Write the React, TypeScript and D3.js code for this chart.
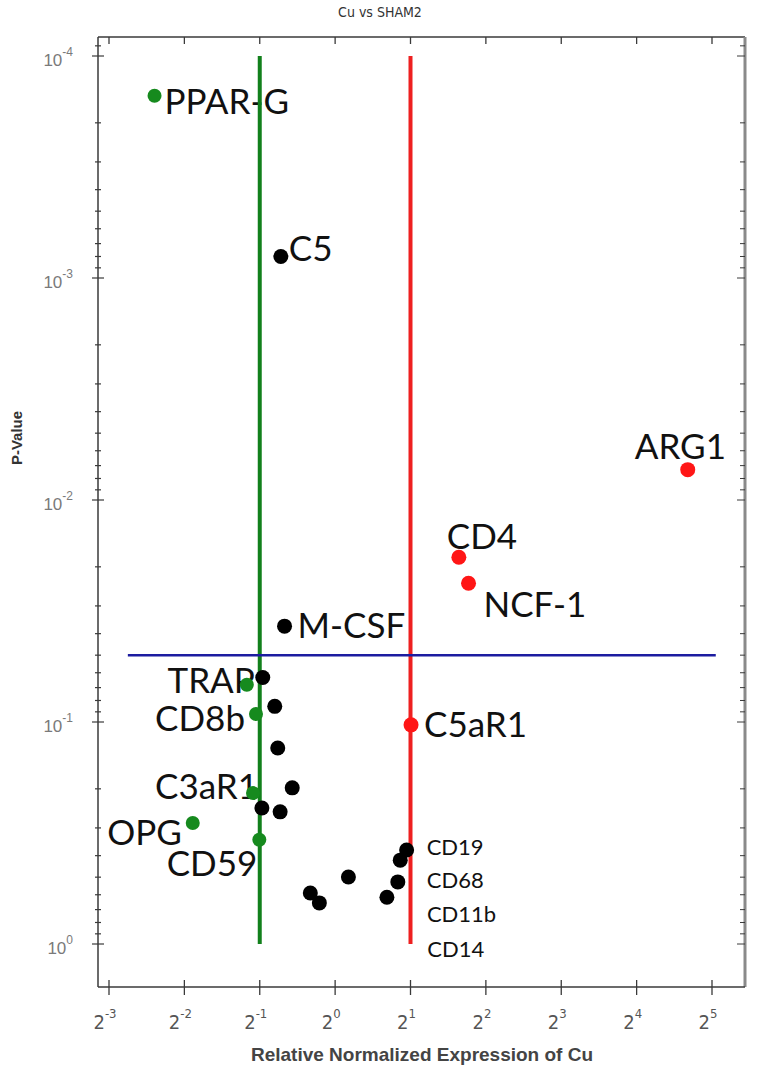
import React, { useEffect, useRef } from 'react';
import * as d3 from 'd3';

// points
const genes = ['PPAR-G', 'C5', 'ARG1', 'CD4', 'NCF-1', 'M-CSF', 'C5aR1', 'TRAP', 'CD8b', 'C3aR1', 'OPG', 'CD59',
  'CD19', 'CD68', 'CD11b', 'CD14', '', '', '', '', '', '', '', '', ''];
const foldChange = [0.19, 0.607, 25.6, 3.12, 3.41, 0.628, 2.01, 0.444, 0.483, 0.47, 0.27, 0.498,
  1.93, 1.78, 1.61, 1.82, 0.514, 0.574, 0.59, 0.674, 0.51, 0.603, 1.13, 0.796, 0.865];
const pValues = [1.51e-4, 8.0e-4, 7.3e-3, 0.0181, 0.0237, 0.037, 0.103, 0.068, 0.092, 0.209, 0.285, 0.339,
  0.377, 0.525, 0.616, 0.419, 0.063, 0.085, 0.131, 0.198, 0.244, 0.254, 0.499, 0.589, 0.653];
const groups = ['down', 'none', 'up', 'up', 'up', 'none', 'up', 'down', 'down', 'down', 'down', 'down',
  'none', 'none', 'none', 'none', 'none', 'none', 'none', 'none', 'none', 'none', 'none', 'none', 'none'];

const xTickExps = [-3, -2, -1, 0, 1, 2, 3, 4, 5];
const yTickExps = [-4, -3, -2, -1, 0];
const downThreshold = 0.5;
const upThreshold = 2;
const pThreshold = 0.05;
const pLineSpan = [2 ** -2.75, 2 ** 5.05];

// label placement (px offset from the dot, to the text baseline)
const labelPos = {
  'PPAR-G': [10, 18, 'start', 35], 'C5': [8, 5, 'start', 35], 'ARG1': [-53, -11, 'start', 35],
  'CD4': [-12, -8, 'start', 35], 'NCF-1': [15, 34, 'start', 35], 'M-CSF': [13, 12, 'start', 35],
  'C5aR1': [13, 12, 'start', 35], 'TRAP': [8, 8, 'end', 35], 'CD8b': [-11, 17, 'end', 35],
  'C3aR1': [5, 6, 'end', 35], 'OPG': [-11, 22, 'end', 35], 'CD59': [-2, 36, 'end', 35],
  'CD19': [20, 5, 'start', 22], 'CD68': [29, 6, 'start', 22], 'CD11b': [40, 25, 'start', 22],
  'CD14': [27, 97, 'start', 22],
};

const colors = { down: '#168a1e', up: '#ff1616', none: '#000000' };

const App = () => {
  const ref = useRef(null);

  useEffect(() => {
    const W = 762, H = 1074;
    const frame = { left: 98, right: 745, top: 37, bottom: 987 };
    const svg = d3.select(ref.current);
    svg.selectAll('*').remove();
    svg.attr('width', W).attr('height', H);

    const x = d3.scaleLog().base(2).domain([2 ** -3, 2 ** 5]).range([109, 712]);
    const y = d3.scaleLog().domain([1e-4, 1]).range([56, 944]);

    const axisColor = '#3a3a3a';
    const tickFont = "'Liberation Sans', Arial, sans-serif";
    const narrowFont = "'Liberation Sans Narrow', 'DejaVu Sans Condensed', 'Liberation Sans', sans-serif";

    // frame
    svg.append('line').attr('x1', frame.left).attr('x2', frame.right).attr('y1', frame.top).attr('y2', frame.top)
      .attr('stroke', axisColor).attr('stroke-width', 1.5);
    svg.append('line').attr('x1', frame.right).attr('x2', frame.right).attr('y1', frame.top).attr('y2', frame.bottom)
      .attr('stroke', '#8a8a8a').attr('stroke-width', 3);
    svg.append('line').attr('x1', frame.left).attr('x2', frame.left).attr('y1', frame.top).attr('y2', frame.bottom)
      .attr('stroke', axisColor).attr('stroke-width', 1.5);
    svg.append('line').attr('x1', frame.left).attr('x2', frame.right).attr('y1', frame.bottom).attr('y2', frame.bottom)
      .attr('stroke', axisColor).attr('stroke-width', 1.5);

    // y ticks (major + minor) on left and right
    const yMinor = [];
    [-5, -4, -3, -2, -1].forEach(e => {
      for (let m = 2; m <= 9; m++) {
        const v = m * 10 ** e;
        const py = y(v);
        if (py > frame.top + 3 && py < frame.bottom - 3) yMinor.push(v);
      }
    });
    yMinor.forEach(v => {
      svg.append('line').attr('x1', frame.left - 3).attr('x2', frame.left + 3).attr('y1', y(v)).attr('y2', y(v))
        .attr('stroke', axisColor).attr('stroke-width', 1.2);
      svg.append('line').attr('x1', frame.right - 5).attr('x2', frame.right).attr('y1', y(v)).attr('y2', y(v))
        .attr('stroke', axisColor).attr('stroke-width', 1);
    });
    yTickExps.forEach(e => {
      const py = y(10 ** e);
      svg.append('line').attr('x1', frame.left - 6).attr('x2', frame.left + 6).attr('y1', py).attr('y2', py)
        .attr('stroke', axisColor).attr('stroke-width', 1.2);
      svg.append('line').attr('x1', frame.right - 8).attr('x2', frame.right).attr('y1', py).attr('y2', py)
        .attr('stroke', axisColor).attr('stroke-width', 1);
      const t = svg.append('text').attr('x', 73).attr('y', py + 10).attr('text-anchor', 'end')
        .attr('font-family', tickFont).attr('font-size', 17).attr('fill', '#7a7a7a');
      t.append('tspan').text('10');
      t.append('tspan').attr('font-size', 12).attr('dy', -10).text(String(e));
    });

    // x ticks bottom + top
    xTickExps.forEach(e => {
      const px = x(2 ** e);
      svg.append('line').attr('x1', px).attr('x2', px).attr('y1', frame.bottom - 7).attr('y2', frame.bottom + 8)
        .attr('stroke', axisColor).attr('stroke-width', 1.3);
      svg.append('line').attr('x1', px).attr('x2', px).attr('y1', frame.top).attr('y2', frame.top + 7)
        .attr('stroke', axisColor).attr('stroke-width', 1.3);
      const t = svg.append('text').attr('x', px - 4).attr('y', 1029).attr('text-anchor', 'middle')
        .attr('font-family', narrowFont).attr('font-size', 20).attr('fill', '#555');
      t.append('tspan').text('2');
      t.append('tspan').attr('font-size', 13).attr('dy', -11).text(String(e));
    });

    // titles
    svg.append('text').attr('x', 380).attr('y', 17).attr('text-anchor', 'middle')
      .attr('font-family', narrowFont).attr('font-size', 14)
      .attr('fill', '#333').text('Cu vs SHAM2');
    svg.append('text').attr('transform', 'translate(22,438) rotate(-90)').attr('text-anchor', 'middle')
      .attr('font-family', tickFont).attr('font-weight', 'bold').attr('font-size', 15)
      .attr('fill', '#333').text('P-Value');
    svg.append('text').attr('x', 422).attr('y', 1061).attr('text-anchor', 'middle')
      .attr('font-family', tickFont).attr('font-weight', 'bold').attr('font-size', 19)
      .attr('fill', '#444').text('Relative Normalized Expression of Cu');

    const points = genes.map((g, i) => ({ gene: g, fc: foldChange[i], p: pValues[i], group: groups[i] }));

    // labels (drawn under the dots)
    points.filter(d => d.gene && labelPos[d.gene]).forEach(d => {
      const [dx, dy, anchor, size] = labelPos[d.gene];
      svg.append('text').attr('x', x(d.fc) + dx).attr('y', y(d.p) + dy).attr('text-anchor', anchor)
        .attr('font-family', "Lato, 'Open Sans', sans-serif").attr('font-size', size).attr('fill', '#111')
        .text(d.gene);
    });

    // threshold lines
    svg.append('line').attr('x1', x(downThreshold)).attr('x2', x(downThreshold)).attr('y1', y(1e-4)).attr('y2', y(1))
      .attr('stroke', '#12801c').attr('stroke-width', 4);
    svg.append('line').attr('x1', x(upThreshold)).attr('x2', x(upThreshold)).attr('y1', y(1e-4)).attr('y2', y(1))
      .attr('stroke', '#ee2020').attr('stroke-width', 4);
    svg.append('line').attr('x1', x(pLineSpan[0])).attr('x2', x(pLineSpan[1]))
      .attr('y1', y(pThreshold)).attr('y2', y(pThreshold))
      .attr('stroke', '#1c1ca0').attr('stroke-width', 2.5);

    // dots
    svg.selectAll('circle.pt').data(points).enter().append('circle')
      .attr('class', 'pt')
      .attr('cx', d => x(d.fc)).attr('cy', d => y(d.p))
      .attr('r', d => (d.group === 'down' ? 7 : 7.5))
      .attr('fill', d => colors[d.group]);
  }, []);

  return <svg ref={ref} style={{ position: 'absolute', left: 0, top: 0, background: '#fff' }} />;
};

export default App;
